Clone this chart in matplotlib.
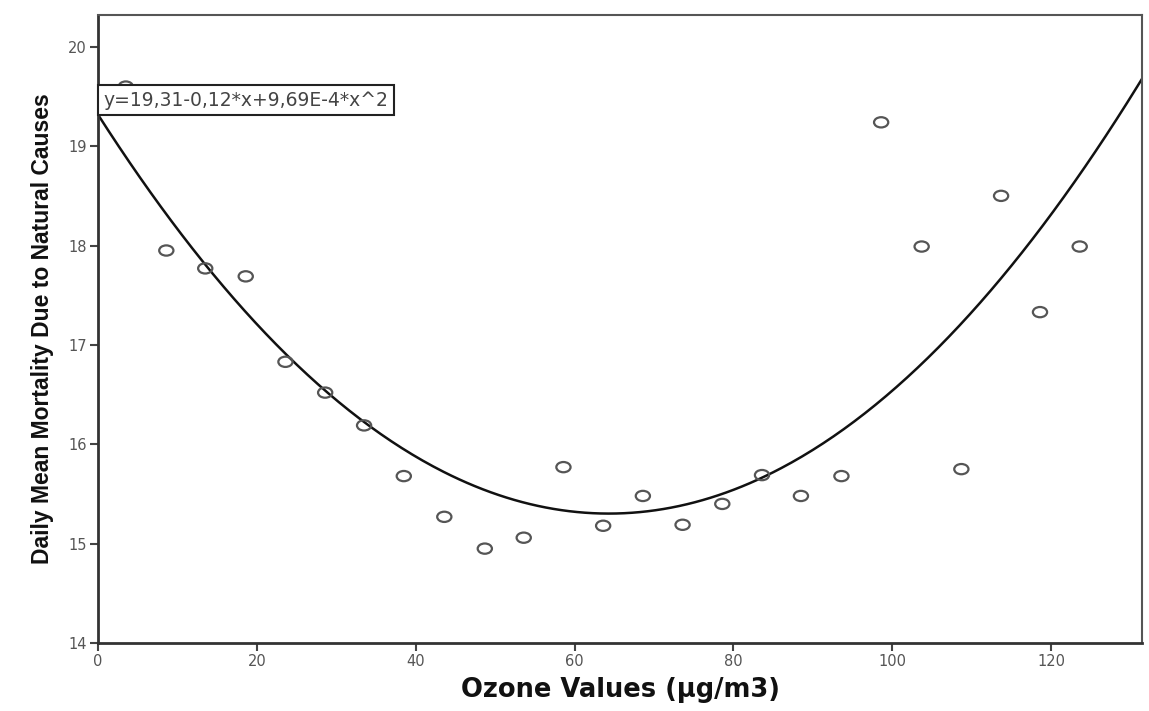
import matplotlib

matplotlib.use("Agg")
import matplotlib.pyplot as plt
import numpy as np
from matplotlib.path import Path
from matplotlib.transforms import Affine2D

# values
ozone = [3.5, 8.6, 13.5, 18.6, 23.6, 28.6, 33.5, 38.5, 43.6, 48.7, 53.6, 58.6, 63.6,
         68.6, 73.6, 78.6, 83.6, 88.5, 93.6, 98.6, 103.7, 108.7, 113.7, 118.6, 123.6]
mortality = [19.60, 17.95, 17.77, 17.69, 16.83, 16.52, 16.19, 15.68, 15.27, 14.95, 15.06,
             15.77, 15.18, 15.48, 15.19, 15.40, 15.69, 15.48, 15.68, 19.24, 17.99, 15.75,
             18.50, 17.33, 17.99]
fit_label = "y=19,31-0,12*x+9,69E-4*x^2"
x_ticks = [0, 20, 40, 60, 80, 100, 120]
y_ticks = [14, 15, 16, 17, 18, 19, 20]

X_MAX = 131.5
Y_MIN, Y_MAX = 14, 20.32

fig = plt.figure(figsize=(11.49, 7.11), dpi=100)
ax = fig.add_axes([0.0853, 0.0956, 0.9090, 0.8833])

# quadratic fit of the points, as in the original
coefs = np.polyfit(ozone, mortality, 2)
xs = np.linspace(0, X_MAX, 400)
ax.plot(xs, np.polyval(coefs, xs), color="#111111", linewidth=1.8, zorder=2)

# slightly flattened open circles
ellipse = Path.unit_circle().transformed(Affine2D().scale(1.0, 0.72))
ax.scatter(ozone, mortality, marker=ellipse, s=105, facecolors="none",
           edgecolors="#555555", linewidths=1.6, zorder=3)

# equation box sits on the start of the curve
ax.text(0.65, np.polyval(coefs, 0) + 0.05, fit_label, fontsize=13.5, color="#444444",
        ha="left", va="bottom", zorder=5,
        bbox=dict(boxstyle="square,pad=0.3", facecolor="white", edgecolor="#222222",
                  linewidth=1.5))

ax.set_xlim(0, X_MAX)
ax.set_ylim(Y_MIN, Y_MAX)
ax.set_xticks(x_ticks)
ax.set_yticks(y_ticks)
ax.tick_params(axis="both", direction="out", length=6, width=1.5, color="#444444",
               labelsize=10.5, labelcolor="#555555", pad=2)

for side in ["left", "bottom"]:
    ax.spines[side].set_linewidth(2.0)
    ax.spines[side].set_color("#333333")
for side in ["top", "right"]:
    ax.spines[side].set_linewidth(1.5)
    ax.spines[side].set_color("#555555")

ax.set_xlabel("Ozone Values (µg/m3)", fontsize=18.5, fontweight="bold", color="#111111",
              labelpad=6)
ax.set_ylabel("Daily Mean Mortality Due to Natural Causes", fontsize=16.5,
              fontweight="bold", color="#111111", labelpad=10,
              family=["Liberation Sans", "DejaVu Sans"])

fig.savefig("out.png", dpi=100)
